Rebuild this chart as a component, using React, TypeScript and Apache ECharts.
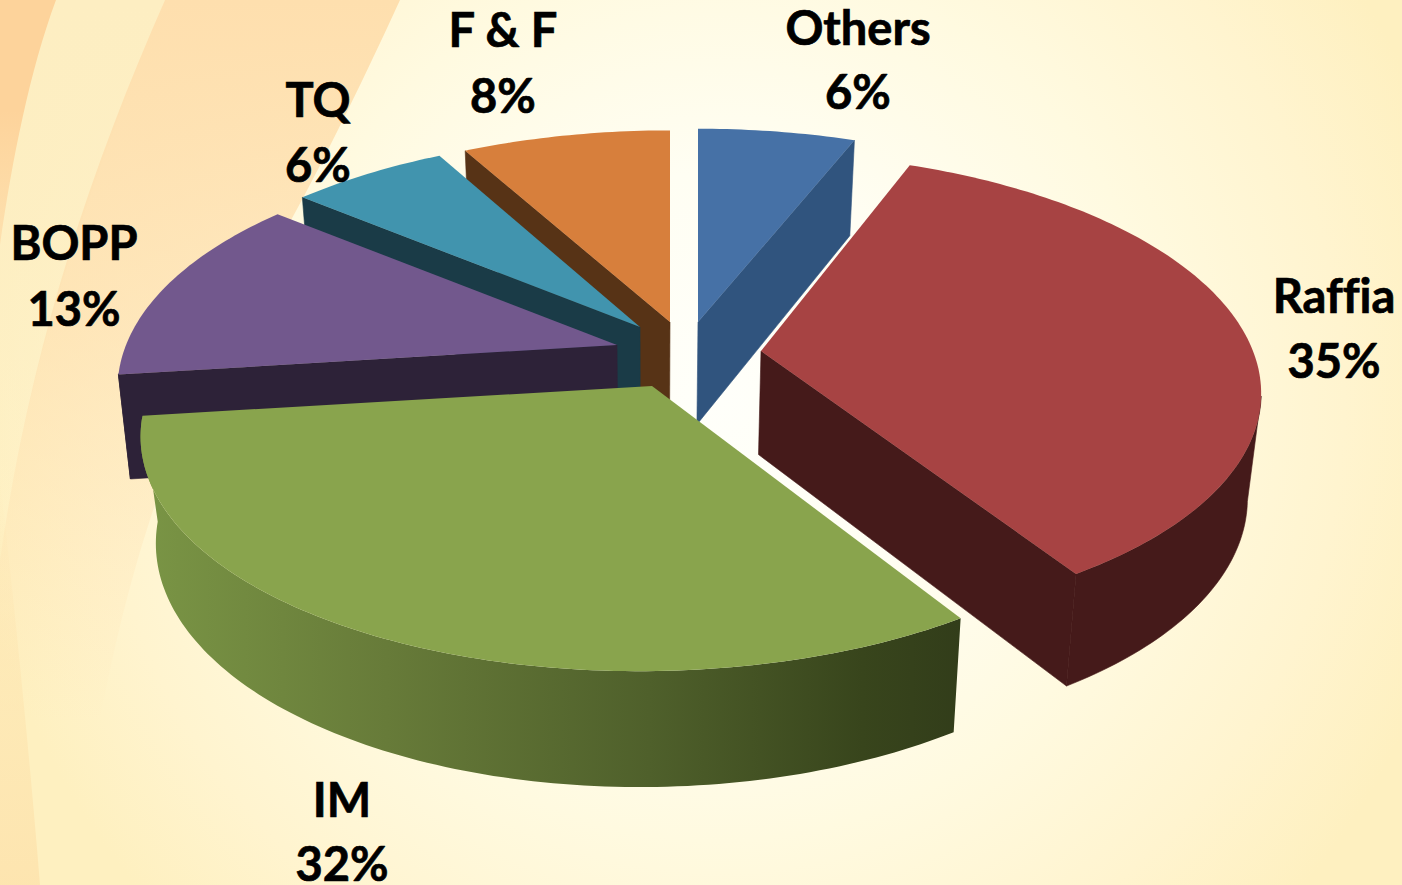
import React, { useEffect, useRef } from "react";
import * as echarts from "echarts";

const categories = ["Others", "Raffia", "IM", "BOPP", "TQ", "F & F"];
const shares = [6, 35, 32, 13, 6, 8];

const topColors = ["#4671a6", "#a74343", "#89a44d", "#72588d", "#4194ae", "#d77f3c"];
const faceColors = ["#30547e", "#451a1a", "#364119", "#2d2238", "#1a3b47", "#573316"];

// layout of the exploded slices: tip position and perspective tuning
const tipX = [698, 761, 652, 617, 640, 670];
const tipY = [322, 351, 386, 345, 327, 322];
const radiusU = [500, 492, 500, 491, 496, 496];
const radiusV = [230, 229, 231, 230, 228, 228];
const persp = [0.19, 0.157, 0.19, 0.19, 0.19, 0.19];
const shear = [0, 0.05, -0.045, 0.015, -0.025, 0];
const pinch = [0.0225, 0.0225, 0.03, 0.0225, 0.0225, 0.0225];
const layerZ = [1, 5, 6, 4, 3, 2];
const nameX = [858, 1334, 342, 74, 318, 503];
const nameY = [27, 295, 799, 242, 99, 29];
const pctY = [91, 360, 863, 308, 164, 95];

const RIGHT_SILHOUETTE = 101;
const LEFT_SILHOUETTE = 263;
// decorative background bands: name, outline, colour, opacity at top / middle / bottom
const swooshes: [string, string, string, string, string, string][] = [
  ["swooshL", "M0 0 L165 0 C95 170 30 350 0 560 Z", "#fdeec2", "ff", "c0", "00"],
  ["swooshB", "M165 0 L400 0 C345 120 280 250 225 330 C170 450 130 560 100 720 L0 720 L0 560 C30 350 90 170 165 0 Z", "#fedfae", "ff", "a8", "00"],
  ["swooshA", "M0 0 L56 0 C30 70 12 160 0 245 Z", "#fdd39b", "ff", "ff", "80"],
  ["swooshC", "M0 480 C14 600 30 760 40 885 L0 885 Z", "#fde3ad", "00", "70", "e0"],
];
swooshes.forEach(([n, d]) => {
  echarts.graphic.registerShape(n, (echarts.graphic as any).extendPath(d, {}));
});

function rim(i: number, deg: number): [number, number] {
  const a = (deg * Math.PI) / 180;
  const front = -Math.cos(a);
  const den = 1 - persp[i] * front;
  const dy = (radiusV[i] * front) / den;
  const dx = (radiusU[i] * Math.sin(a)) / den + shear[i] * dy;
  return [tipX[i] + dx, tipY[i] + dy];
}

function drop(i: number, p: [number, number]): [number, number] {
  const k = p[0] < 650 ? pinch[i] : 0.0225;
  return [p[0] - (p[0] - 650) * k, p[1] + 90 + 0.0386 * p[1]];
}

function arcPoints(i: number, from: number, to: number): [number, number][] {
  const pts: [number, number][] = [];
  const n = Math.max(2, Math.ceil(to - from));
  for (let k = 0; k <= n; k++) pts.push(rim(i, from + ((to - from) * k) / n));
  return pts;
}

const total = shares.reduce((a, b) => a + b, 0);

function renderSlice(params: any, api: any) {
  const i = params.dataIndex;
  const value = api.value(0);
  let before = 0;
  for (let k = 0; k < i; k++) before += shares[k];
  const start = (before / total) * 360;
  const end = start + (value / total) * 360;
  const tip: [number, number] = [tipX[i], tipY[i]];
  const children: any[] = [];
  const z = layerZ[i] * 10;

  const addFace = (deg: number) => {
    const p = rim(i, deg);
    children.push({
      type: "polygon",
      z2: z,
      shape: { points: [tip, p, drop(i, p), drop(i, tip)] },
      style: { fill: faceColors[i], stroke: faceColors[i], lineWidth: 0.6 },
    });
  };
  if (Math.sin((start * Math.PI) / 180) < -1e-6) addFace(start);
  if (Math.sin((end * Math.PI) / 180) > 1e-6) addFace(end);

  const wallFrom = Math.max(start, RIGHT_SILHOUETTE);
  const wallTo = Math.min(end, LEFT_SILHOUETTE);
  if (wallTo > wallFrom) {
    const top = arcPoints(i, wallFrom, wallTo);
    const isIM = categories[i] === "IM";
    const fill = isIM
      ? new echarts.graphic.LinearGradient(0, 0, 1, 0, [
          { offset: 0, color: "#7a9545" },
          { offset: 0.3, color: "#677b39" },
          { offset: 0.62, color: "#4f602b" },
          { offset: 0.88, color: "#38451c" },
          { offset: 1, color: "#323d1a" },
        ])
      : faceColors[i];
    children.push({
      type: "polygon",
      z2: z + 1,
      shape: { points: [...top, ...top.map((p) => drop(i, p)).reverse()] },
      style: isIM ? { fill } : { fill, stroke: fill, lineWidth: 0.6 },
    });
  }

  children.push({
    type: "polygon",
    z2: z + 2,
    shape: { points: [tip, ...arcPoints(i, start, end)] },
    style: { fill: topColors[i] },
  });

  const labelStyle = {
    fontFamily: "Lato",
    fontWeight: 700,
    fontSize: 47,
    fill: "#000",
    stroke: "#000",
    lineWidth: 0.7,
    align: "center",
    verticalAlign: "middle",
  };
  children.push({
    type: "text",
    z2: 200,
    x: nameX[i],
    y: nameY[i],
    style: { ...labelStyle, text: categories[i] },
  });
  children.push({
    type: "text",
    z2: 200,
    x: nameX[i],
    y: pctY[i],
    style: { ...labelStyle, text: `${value}%` },
  });
  return { type: "group", children };
}

export default function App() {
  const ref = useRef<HTMLDivElement>(null);
  useEffect(() => {
    document.body.style.margin = "0";
    document.body.style.overflow = "hidden";
    const css = document.createElement("style");
    css.textContent = "svg text { font-variant-ligatures: none !important; }";
    document.head.appendChild(css);
    const chart = echarts.init(ref.current!, undefined, { renderer: "svg" });
    chart.setOption({
      animation: false,
      graphic: swooshes.map(([n, , fill, a0, a1, a2]) => ({
        type: n,
        z: -1,
        style: {
          fill: new echarts.graphic.LinearGradient(0, 0, 0, 1, [
            { offset: 0, color: fill + a0 },
            { offset: 0.45, color: fill + a1 },
            { offset: 1, color: fill + a2 },
          ]),
        },
      })),
      series: [
        {
          type: "custom",
          coordinateSystem: "none",
          renderItem: renderSlice,
          data: shares.map((v, i) => ({ name: categories[i], value: [v] })),
          silent: true,
          clip: false,
        },
      ],
    });
    return () => {
      chart.dispose();
      css.remove();
    };
  }, []);
  return (
    <div
      ref={ref}
      style={{
        width: 1402,
        height: 885,
        background:
          "radial-gradient(circle 760px at 720px 400px, #fffffa 0%, #fffef3 30%, #fffae0 58%, #fff4cf 82%, #fef0c0 100%)",
      }}
    />
  );
}
